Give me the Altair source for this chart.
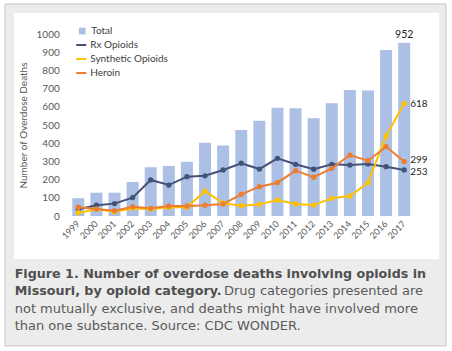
import altair as alt
import pandas as pd

years = [str(y) for y in range(1999, 2018)]
total = [98, 128, 128, 187, 268, 275, 298, 403, 388, 472, 524, 595, 592, 537, 619, 692, 689, 912, 952]
rx = [37, 59, 68, 101, 198, 170, 216, 221, 253, 290, 258, 317, 284, 257, 284, 280, 286, 271, 253]
synthetic = [18, 37, 24, 42, 37, 48, 48, 137, 70, 57, 64, 88, 66, 60, 97, 110, 183, 440, 618]
heroin = [48, 38, 29, 51, 42, 55, 55, 59, 66, 119, 161, 183, 249, 213, 262, 335, 304, 381, 299]
y_ticks = [0, 100, 200, 300, 400, 500, 600, 700, 800, 900, 1000]

series_names = ["Rx Opioids", "Synthetic Opioids", "Heroin"]
series_colors = ["#435277", "#FFC000", "#ED7D31"]
bar_color = "#ABC0E4"

y_title = "Number of Overdose Deaths"
caption_bold_1 = "Figure 1. Number of overdose deaths involving opioids in"
caption_bold_2 = "Missouri, by opioid category."
caption_reg_2 = "Drug categories presented are"
caption_reg_3 = "not mutually exclusive, and deaths might have involved more"
caption_reg_4 = "than one substance. Source: CDC WONDER."

bars_df = pd.DataFrame({"year": years, "value": total, "series": "Total"})
lines_df = pd.concat([
    pd.DataFrame({"year": years, "value": vals, "series": name})
    for name, vals in zip(series_names, [rx, synthetic, heroin])
])
last_df = lines_df[lines_df["year"] == years[-1]].copy()
last_df["label"] = last_df["value"].astype(str)
last_df["dy"] = [2, 0, -2]
last_bar = bars_df[bars_df["year"] == years[-1]].copy()
last_bar["label"] = last_bar["value"].astype(str)

one = pd.DataFrame({"a": [0]})
W, H = 344, 182
PL, PT = 69.25, 34

x_scale = alt.Scale(paddingInner=0.34, paddingOuter=0.17)
x_axis = alt.Axis(labelAngle=-45, labelAlign="right", labelBaseline="middle",
                  labelPadding=6, ticks=False, domain=False, grid=False, zindex=1,
                  labelOverlap=False,
                  labelFont="Lato", labelFontSize=9, labelColor="#595959")
y_scale = alt.Scale(domain=[0, 1000])
y_axis = alt.Axis(values=y_ticks, format="d", ticks=False, domain=False, grid=False,
                  zindex=1, labelOverlap=False,
                  labelFont="Lato", labelFontSize=10, labelColor="#595959", labelPadding=10,
                  titleFont="Lato", titleFontSize=10, titleFontWeight="normal",
                  titleColor="#595959", titlePadding=8)


def X():
    return alt.X("year:O", title=None, scale=x_scale, axis=x_axis)


def Y():
    return alt.Y("value:Q", title=y_title, scale=y_scale, axis=y_axis)


frame = alt.Chart(one).mark_rect(fill="#ececec", stroke="#c4c4c4", strokeWidth=1).encode(
    x=alt.value(5 - PL), x2=alt.value(446 - PL), y=alt.value(4 - PT), y2=alt.value(346 - PT))
panel = alt.Chart(one).mark_rect(fill="#ffffff").encode(
    x=alt.value(14 - PL), x2=alt.value(439 - PL), y=alt.value(13 - PT), y2=alt.value(259 - PT))

bars = alt.Chart(bars_df).mark_bar(size=12).encode(
    x=X(), y=Y(),
    fill=alt.Fill("series:N", scale=alt.Scale(domain=["Total"], range=[bar_color]),
                  legend=alt.Legend(title=None, orient="none", legendX=8, legendY=-8,
                                    symbolType="square", symbolSize=45, labelFont="Lato",
                                    labelFontSize=10, labelColor="#404040", padding=0,
                                    symbolStrokeWidth=0)))

color_scale = alt.Scale(domain=series_names, range=series_colors)
lines = alt.Chart(lines_df).mark_line(strokeWidth=2).encode(
    x=X(), y=Y(),
    color=alt.Color("series:N", scale=color_scale, sort=series_names,
                    legend=alt.Legend(title=None, orient="none", legendX=6, legendY=5,
                                      symbolType="stroke", symbolSize=100, symbolStrokeWidth=2,
                                      labelFont="Lato", labelFontSize=10, labelColor="#404040",
                                      padding=0, rowPadding=3, labelOffset=3)))
points = alt.Chart(lines_df).mark_point(filled=True, size=28, opacity=1).encode(
    x=X(), y=Y(),
    color=alt.Color("series:N", scale=color_scale, legend=None))

bar_label = alt.Chart(last_bar).mark_text(baseline="bottom", dy=-3, font="Lato", fontSize=10.5,
                                          color="#262626").encode(
    x=X(), y=Y(), text="label:N")
line_label_layers = []
for _, row in last_df.iterrows():
    line_label_layers.append(
        alt.Chart(last_df[last_df["series"] == row["series"]]).mark_text(
            align="left", baseline="middle", dx=6, dy=float(row["dy"]), font="Lato",
            fontSize=10, color="#262626").encode(
            x=X(), y=Y(), text="label:N"))

cap_x = 14.7 - PL


def cap(txt, x, y, bold, align="left"):
    return alt.Chart(one).mark_text(align=align, baseline="alphabetic", font="DejaVu Sans",
                                    fontSize=12.7 if bold else 13,
                                    fontWeight="bold" if bold else "normal",
                                    color="#4f4f4f" if bold else "#5a5a5a").encode(
        x=alt.value(x), y=alt.value(y), text=alt.value(txt))


captions = [
    cap(caption_bold_1, cap_x, 277.5 - PT, True),
    cap(caption_bold_2, cap_x, 295 - PT, True),
    cap(caption_reg_2, 423 - PL, 295 - PT, False, align="right"),
    cap(caption_reg_3, cap_x, 312.5 - PT, False),
    cap(caption_reg_4, cap_x, 330 - PT, False),
]

chart = alt.layer(frame, panel, bars, lines, points, bar_label, *line_label_layers, *captions).resolve_scale(
    fill="independent", color="independent"
).properties(
    width=W, height=H,
    autosize=alt.AutoSizeParams(type="none"),
    padding={"left": PL, "top": PT, "right": 452 - PL - W, "bottom": 351 - PT - H},
    background="#ffffff",
).configure_view(stroke=None)

chart.save("out.html", embed_options={"renderer": "svg", "actions": False})
